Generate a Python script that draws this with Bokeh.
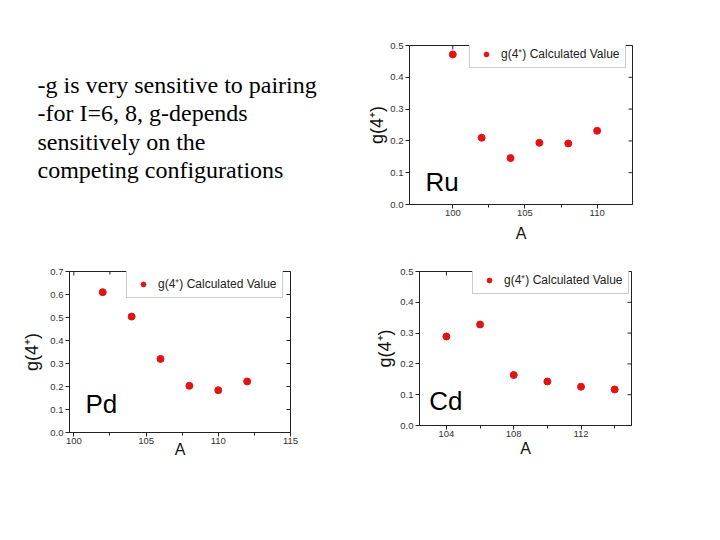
import math
from bokeh.plotting import figure
from bokeh.layouts import column, row
from bokeh.models import (Range1d, FixedTicker, PrintfTickFormatter, Legend,
                          LegendItem, Label)
from bokeh.embed import file_html
from bokeh.resources import INLINE

# ---------------- data ----------------
ru_A = [100, 102, 104, 106, 108, 110]
ru_g = [0.472, 0.210, 0.146, 0.194, 0.192, 0.232]

pd_A = [102, 104, 106, 108, 110, 112]
pd_g = [0.610, 0.504, 0.320, 0.203, 0.184, 0.222]

cd_A = [104, 106, 108, 110, 112, 114]
cd_g = [0.289, 0.328, 0.164, 0.143, 0.126, 0.117]

ru_xticks = [100, 105, 110]
pd_xticks = [100, 105, 110, 115]
cd_xticks = [104, 108, 112]
ru_yticks = [0.0, 0.1, 0.2, 0.3, 0.4, 0.5]
pd_yticks = [0.0, 0.1, 0.2, 0.3, 0.4, 0.5, 0.6, 0.7]
cd_yticks = [0.0, 0.1, 0.2, 0.3, 0.4, 0.5]

notes = ["-g is very sensitive to pairing",
         "-for I=6, 8, g-depends",
         "sensitively on the",
         "competing configurations"]

legend_label = "g(4\u207a) Calculated Value"
y_label = "g(4\u207a)"
x_label = "A"

FONT = "Liberation Sans"
SERIF = "Liberation Serif"
RED = "#e01414"
AXC = "#222222"


def style_axis(ax, label_standoff, tick_standoff, label_size):
    ax.axis_line_color = AXC
    ax.major_tick_line_color = AXC
    ax.minor_tick_line_color = AXC
    ax.major_tick_out = 4
    ax.major_tick_in = 0
    ax.minor_tick_out = 3
    ax.minor_tick_in = 0
    ax.major_label_text_font = FONT
    ax.major_label_text_font_size = "9.5px"
    ax.major_label_text_color = "#333333"
    ax.major_label_standoff = tick_standoff
    ax.axis_label_text_font = FONT
    ax.axis_label_text_font_size = label_size
    ax.axis_label_text_font_style = "normal"
    ax.axis_label_text_color = "#111111"
    ax.axis_label_standoff = label_standoff


def panel(name, A, g, xr, yr, xticks, xminor, yticks, w, h, bl, br, bt, bb,
          leg_xy, name_xy, xl_standoff, yl_standoff):
    p = figure(width=w, height=h, x_range=Range1d(*xr), y_range=Range1d(*yr),
               output_backend="svg", toolbar_location=None, title=None,
               min_border_left=bl, min_border_right=br,
               min_border_top=bt, min_border_bottom=bb)
    p.grid.visible = False
    p.outline_line_color = AXC
    p.outline_line_alpha = 1.0
    p.xaxis.ticker = FixedTicker(ticks=xticks, minor_ticks=xminor)
    p.yaxis.ticker = FixedTicker(ticks=yticks, minor_ticks=[])
    p.yaxis.formatter = PrintfTickFormatter(format="%.1f")
    p.xaxis.axis_label = x_label
    p.yaxis.axis_label = y_label
    style_axis(p.xaxis[0], xl_standoff, 1, "16px")
    style_axis(p.yaxis[0], yl_standoff, 2, "18px")

    # inward mirror ticks on the top and right edges of the frame
    p.ray(x=xticks, y=[yr[1]] * len(xticks), length=4, length_units="screen",
          angle=-math.pi / 2, line_color=AXC, line_width=1)
    p.ray(x=xminor, y=[yr[1]] * len(xminor), length=3, length_units="screen",
          angle=-math.pi / 2, line_color=AXC, line_width=1)
    p.ray(x=[xr[1]] * len(yticks), y=yticks, length=4, length_units="screen",
          angle=math.pi, line_color=AXC, line_width=1)

    r = p.scatter(A, g, size=7, marker="circle", fill_color=RED, line_color=RED)

    leg = Legend(items=[LegendItem(label=legend_label, renderers=[r])],
                 location=leg_xy, margin=0, padding=5, spacing=0,
                 glyph_width=22, glyph_height=12, label_height=12,
                 label_standoff=4, label_text_font=FONT,
                 label_text_font_size="12px", label_text_color="#222222",
                 border_line_color="#999999", border_line_width=1,
                 background_fill_color="white", background_fill_alpha=1.0)
    p.add_layout(leg, "center")

    p.add_layout(Label(x=name_xy[0], y=name_xy[1], text=name,
                       text_font=FONT, text_font_size="26px",
                       text_color="#000000", text_baseline="alphabetic"))
    return p


TOP_H = 249
RU_BT, RU_BB = 45, 45

ru = panel("Ru", ru_A, ru_g, (97.0, 112.45), (0, 0.5), ru_xticks,
           [102.5, 107.5], ru_yticks,
           w=283, h=TOP_H, bl=50, br=10, bt=RU_BT, bb=RU_BB,
           leg_xy=(60, 136), name_xy=(98.1, 0.072),
           xl_standoff=6, yl_standoff=0)

pd_ = panel("Pd", pd_A, pd_g, (99.7, 115.0), (0, 0.7), pd_xticks,
            [102.5, 107.5, 112.5], pd_yticks,
            w=365, h=241, bl=69, br=75, bt=22, bb=58,
            leg_xy=(57, 134), name_xy=(100.8, 0.123),
            xl_standoff=-6, yl_standoff=5)

cd = panel("Cd", cd_A, cd_g, (102.4, 115.0), (0, 0.5), cd_xticks,
           [106, 110, 114], cd_yticks,
           w=277, h=234, bl=54, br=11, bt=22, bb=58,
           leg_xy=(53, 131), name_xy=(102.98, 0.078),
           xl_standoff=0, yl_standoff=2)

# ---------------- text block ----------------
# its frame shares the top / bottom borders of the Ru panel beside it,
# so the y range is expressed in page pixels from the top
TXT_W = 359
txt = figure(width=TXT_W, height=TOP_H, x_range=Range1d(0, TXT_W),
             y_range=Range1d(TOP_H - RU_BB, RU_BT), output_backend="svg",
             toolbar_location=None, x_axis_location=None,
             y_axis_location=None, title=None,
             min_border_left=0, min_border_right=0,
             min_border_top=RU_BT, min_border_bottom=RU_BB)
txt.grid.visible = False
txt.outline_line_color = None
TEXT_X, LINE0, GAP = 37, 84, 28.5
for i, line in enumerate(notes):
    txt.add_layout(Label(x=TEXT_X, y=LINE0 + GAP * i, text=line,
                         text_font=SERIF, text_font_size="24px",
                         text_color="#000000", text_baseline="alphabetic"))

layout = column(row(txt, ru), row(pd_, cd))
open("out.html", "w").write(file_html(layout, INLINE))
